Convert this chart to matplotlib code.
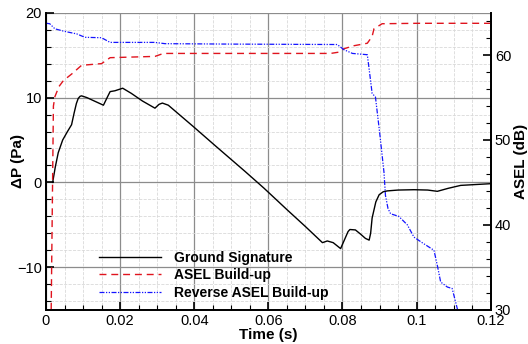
import numpy as np
import matplotlib.pyplot as plt
from matplotlib.ticker import MultipleLocator

plt.rcParams['font.family'] = ['Liberation Sans', 'DejaVu Sans']

# ground signature, delta P (Pa) vs time (s)
sig_t = [0.0018, 0.0025, 0.0033, 0.0045, 0.0058, 0.0069, 0.0076, 0.0082, 0.0087,
         0.0092, 0.0096, 0.0110, 0.0130, 0.0155, 0.0165, 0.0173, 0.0186, 0.0200,
         0.0207, 0.0230, 0.0260, 0.0294, 0.0305, 0.0314, 0.0330, 0.0397, 0.0460,
         0.0537, 0.0588, 0.0650, 0.0700, 0.0746, 0.0759, 0.0775, 0.0795, 0.0805,
         0.0815, 0.0820, 0.0835, 0.0849, 0.0862, 0.0872, 0.0876, 0.0880, 0.0890,
         0.0899, 0.0910, 0.0921, 0.0950, 0.0993, 0.1030, 0.1056, 0.1085, 0.1119,
         0.1200]
sig_p = [0.0, 1.8, 3.5, 5.0, 6.0, 6.8, 8.2, 9.3, 9.9,
         10.15, 10.2, 10.0, 9.6, 9.1, 10.0, 10.7, 10.8, 11.0,
         11.1, 10.5, 9.6, 8.75, 9.2, 9.35, 9.1, 6.6, 4.2,
         1.3, -0.67, -3.2, -5.2, -7.1, -6.9, -7.1, -7.8, -6.8,
         -5.8, -5.55, -5.6, -6.1, -6.6, -6.8, -6.0, -4.2, -2.3,
         -1.45, -1.1, -1.0, -0.9, -0.86, -0.9, -1.05, -0.7, -0.35,
         -0.15]

# ASEL build-up (dB)
asel_t = [0.0014, 0.0020, 0.0024, 0.0035, 0.0047, 0.0070, 0.0096, 0.0150, 0.0173,
          0.0294, 0.0317, 0.0500, 0.0768, 0.0790, 0.0804, 0.0830, 0.0867, 0.0880,
          0.0885, 0.0907, 0.1000, 0.1200]
asel_db = [30.0, 54.0, 55.1, 56.3, 57.0, 57.8, 58.8, 59.0, 59.7,
           59.85, 60.2, 60.2, 60.2, 60.35, 60.75, 61.1, 61.4, 62.2,
           63.1, 63.7, 63.75, 63.75]

# reverse ASEL build-up (dB)
rev_t = [0.0, 0.0010, 0.0024, 0.0050, 0.0083, 0.0105, 0.0150, 0.0173, 0.0294,
         0.0321, 0.0500, 0.0786, 0.0804, 0.0827, 0.0867, 0.0873, 0.0880, 0.0889,
         0.0900, 0.0912, 0.0916, 0.0923, 0.0930, 0.0952, 0.0975, 0.0993, 0.1015,
         0.1047, 0.1057, 0.1065, 0.1083, 0.1096, 0.1103, 0.1110, 0.1113]
rev_db = [63.76, 63.7, 63.1, 62.8, 62.5, 62.1, 62.05, 61.5, 61.5,
          61.35, 61.3, 61.25, 60.64, 60.2, 60.05, 58.0, 55.5, 55.06,
          51.0, 46.2, 43.46, 41.9, 41.3, 41.0, 40.0, 38.55, 37.9,
          37.0, 35.0, 33.26, 32.67, 32.5, 31.3, 30.1, 29.5]

x_ticks = [0, 0.02, 0.04, 0.06, 0.08, 0.1, 0.12]
x_labels = ['0', '0.02', '0.04', '0.06', '0.08', '0.1', '0.12']

fig = plt.figure(figsize=(5.28, 3.44), dpi=100)
ax = fig.add_axes([46 / 528, 1 - 309.7 / 344, (490.7 - 46) / 528, (309.7 - 12.7) / 344])
ax2 = ax.twinx()

ax.set_xlim(0, 0.12)
ax.set_ylim(-15, 20)
ax2.set_ylim(30, 65)

ax.xaxis.set_minor_locator(MultipleLocator(0.005))
ax.yaxis.set_major_locator(MultipleLocator(10))
ax.yaxis.set_minor_locator(MultipleLocator(2))
ax2.yaxis.set_major_locator(MultipleLocator(10))
ax2.yaxis.set_minor_locator(MultipleLocator(2))
ax.set_xticks(x_ticks)
ax.set_xticklabels(x_labels)

ax.grid(which='major', color='#8c8c8c', lw=0.9, ls='-')
ax.grid(which='minor', color='#d9d9d9', lw=0.6, ls='--')
ax.set_axisbelow(True)

l1, = ax.plot(sig_t, sig_p, color='black', lw=1.0, label='Ground Signature')
l2, = ax2.plot(asel_t, asel_db, color='#e0141e', lw=1.0, ls=(0, (5, 3.5)), label='ASEL Build-up')
l3, = ax2.plot(rev_t, rev_db, color='#1414ff', lw=0.9, ls=(0, (4, 1.2, 1, 1.2, 1, 1.2)),
               label='Reverse ASEL Build-up')

for a in (ax, ax2):
    a.spines['top'].set_visible(False)
    for s in ('left', 'right', 'bottom'):
        a.spines[s].set_linewidth(1.3)
    a.tick_params(which='both', direction='in', labelsize=10.5, pad=3)
    a.tick_params(which='major', length=6, width=1.2)
    a.tick_params(which='minor', length=3.5, width=0.8)

ax.tick_params(axis='x', which='both', top=False)
ax.tick_params(axis='y', which='both', right=False)

ax.set_xlabel('Time (s)', fontsize=11, fontweight='bold', labelpad=0)
ax.set_ylabel('ΔP (Pa)', fontsize=11, fontweight='bold')
ax2.set_ylabel('ASEL (dB)', fontsize=11, fontweight='bold')
ax.yaxis.set_label_coords(-0.048, 0.5)
ax2.yaxis.set_label_coords(1.053, 0.5)

leg = ax2.legend(handles=[l1, l2, l3], loc='lower left', bbox_to_anchor=(0.091, -0.008),
                 frameon=False, prop={'weight': 'bold', 'size': 10},
                 handlelength=4.5, handletextpad=0.9, labelspacing=0.25)

fig.savefig('out.png', dpi=100)
